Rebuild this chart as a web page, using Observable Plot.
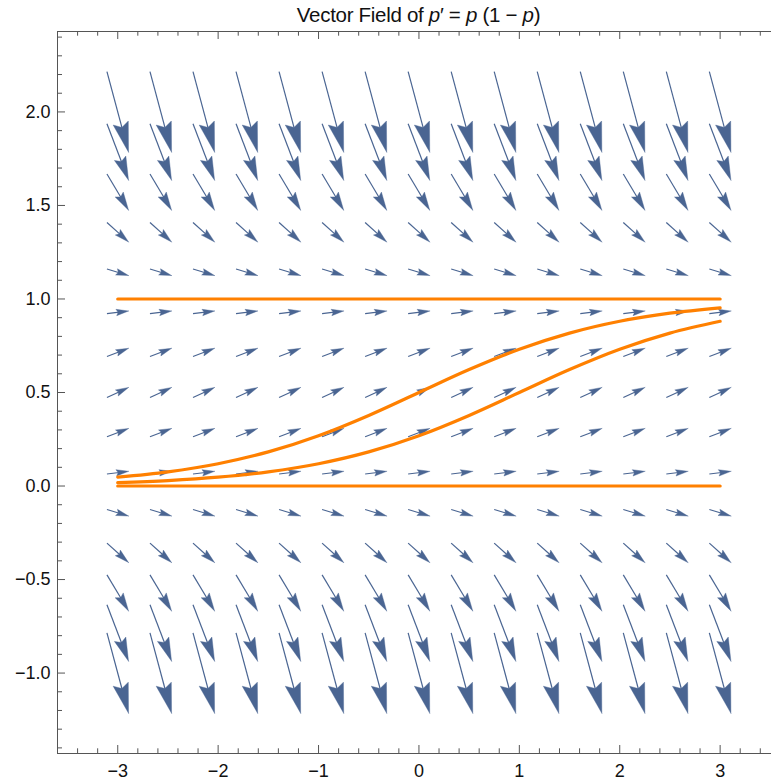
<!DOCTYPE html>
<html>
<head>
<meta charset="utf-8">
<script src="https://cdn.jsdelivr.net/npm/d3@7"></script>
<script src="https://cdn.jsdelivr.net/npm/@observablehq/plot@0.6"></script>
<style>
  body { margin: 0; background: #fff; }
  #wrap { position: relative; width: 771px; height: 781px; overflow: hidden; }
  #title { position: absolute; top: 3px; left: 57px; width: 723px; text-align: center;
           font: 20.5px "Liberation Sans", Arial, sans-serif; letter-spacing: -0.3px; color: #111; white-space: nowrap; }
  #chart { position: absolute; top: 0; left: 0; }
</style>
</head>
<body>
<div id="wrap">
  <div id="chart"></div>
  <div id="title">Vector Field of <i>p</i>′ = <i>p</i> (1 − <i>p</i>)</div>
</div>
<script>
// ---- data ----
const xGrid = [-3, -2.5714, -2.1429, -1.7143, -1.2857, -0.8571, -0.4286, 0, 0.4286, 0.8571, 1.2857, 1.7143, 2.1429, 2.5714, 3];
const pGrid = [-1, -0.7857, -0.5714, -0.3571, -0.1429, 0.0714, 0.2857, 0.5, 0.7143, 0.9286, 1.1429, 1.3571, 1.5714, 1.7857, 2];
const slopes = [-2, -1.4031, -0.898, -0.4847, -0.1633, 0.0663, 0.2041, 0.25, 0.2041, 0.0663, -0.1633, -0.4847, -0.898, -1.4031, -2];
const tSamples = [-3, -2.5, -2, -1.5, -1, -0.5, 0, 0.5, 1, 1.5, 2, 2.5, 3];
const solA = [0.0474, 0.0759, 0.1192, 0.1824, 0.2689, 0.3775, 0.5, 0.6225, 0.7311, 0.8176, 0.8808, 0.9241, 0.9526];
const solB = [0.018, 0.0293, 0.0474, 0.0759, 0.1192, 0.1824, 0.2689, 0.3775, 0.5, 0.6225, 0.7311, 0.8176, 0.8808];
const equilibria = [0, 1];
const tRange = [-3, 3];
const xMajor = [-3, -2, -1, 0, 1, 2, 3];
const xMinor = [-3.4, -3.2, -2.8, -2.6, -2.4, -2.2, -1.8, -1.6, -1.4, -1.2, -0.8, -0.6, -0.4, -0.2, 0.2, 0.4, 0.6, 0.8, 1.2, 1.4, 1.6, 1.8, 2.2, 2.4, 2.6, 2.8, 3.2, 3.4];
const yMajor = [-1, -0.5, 0, 0.5, 1, 1.5, 2];
const yMinor = [-1.4, -1.3, -1.2, -1.1, -0.9, -0.8, -0.7, -0.6, -0.4, -0.3, -0.2, -0.1, 0.1, 0.2, 0.3, 0.4, 0.6, 0.7, 0.8, 0.9, 1.1, 1.2, 1.3, 1.4, 1.6, 1.7, 1.8, 1.9, 2.1, 2.2, 2.3, 2.4];
const xDomain = [-3.6, 3.5116];
const yDomain = [-1.43, 2.43];

// ---- layout / style ----
const W = 771, H = 781;
const M = {top: 31, right: 0, bottom: 28, left: 57};
const arrowColor = "rgb(74,101,146)";
const orange = "rgb(255,128,0)";
const frameColor = "#555";
const arrowScale = 0.215;
const font = "'Liberation Sans', Arial, sans-serif";

const base = {
  width: W, height: H,
  marginTop: M.top, marginRight: M.right, marginBottom: M.bottom, marginLeft: M.left,
  x: {domain: xDomain}, y: {domain: yDomain}
};

// probe plot to obtain the library's scales
const probe = Plot.plot({...base, marks: [Plot.dot([{x: 0, y: 0}], {x: "x", y: "y"})]});
const sx = probe.scale("x"), sy = probe.scale("y");

// build arrows (shaft + filled head) in pixel space via scales, back to data
const shafts = [], heads = [];
let id = 0;
pGrid.forEach((p, j) => {
  const f = slopes[j];
  xGrid.forEach(x => {
    const dx = arrowScale, dy = arrowScale * f;
    const X0 = sx.apply(x - dx / 2), Y0 = sy.apply(p - dy / 2);
    const X1 = sx.apply(x + dx / 2), Y1 = sy.apply(p + dy / 2);
    const L = Math.hypot(X1 - X0, Y1 - Y0);
    const ux = (X1 - X0) / L, uy = (Y1 - Y0) / L;
    const nx = -uy, ny = ux;
    const h = 6 + 0.29 * L, w = 0.52 * h;
    const bx = X1 - ux * h, by = Y1 - uy * h;
    const kx = X1 - ux * h * 0.85, ky = Y1 - uy * h * 0.85;
    const pts = [
      [X1, Y1],
      [bx + nx * w / 2, by + ny * w / 2],
      [kx, ky],
      [bx - nx * w / 2, by - ny * w / 2],
      [X1, Y1]
    ];
    pts.forEach(([px, py]) => heads.push({id, x: sx.invert(px), y: sy.invert(py)}));
    shafts.push({x1: sx.invert(X0), y1: sy.invert(Y0), x2: sx.invert(kx + ux * 1), y2: sy.invert(ky + uy * 1)});
    id++;
  });
});

const curves = [];
tSamples.forEach((t, i) => {
  curves.push({s: "A", t, p: solA[i]});
  curves.push({s: "B", t, p: solB[i]});
});
const flat = [];
equilibria.forEach(e => tRange.forEach(t => flat.push({s: "e" + e, t, p: e})));

const plotH = H - M.top - M.bottom, plotW = W - M.left - M.right;

const chart = Plot.plot({
  ...base,
  style: {fontFamily: font, color: "#111", background: "white"},
  marks: [
    Plot.link(shafts, {x1: "x1", y1: "y1", x2: "x2", y2: "y2", stroke: arrowColor, strokeWidth: 1.2}),
    Plot.line(heads, {x: "x", y: "y", z: "id", fill: arrowColor, stroke: arrowColor, strokeWidth: 0.4, curve: "linear"}),
    Plot.line(flat, {x: "t", y: "p", z: "s", stroke: orange, strokeWidth: 3.2}),
    Plot.line(curves, {x: "t", y: "p", z: "s", stroke: orange, strokeWidth: 3.2, curve: "monotone-x"}),
    // frame
    Plot.ruleX([xDomain[0]], {stroke: frameColor, strokeWidth: 1}),
    Plot.ruleY([yDomain[0], yDomain[1]], {stroke: frameColor, strokeWidth: 1}),
    // ticks (inward)
    Plot.ruleX(xMajor, {stroke: frameColor, insetTop: plotH - 8}),
    Plot.ruleX(xMinor, {stroke: frameColor, insetTop: plotH - 4.7}),
    Plot.ruleX(xMajor, {stroke: frameColor, insetBottom: plotH - 8}),
    Plot.ruleX(xMinor, {stroke: frameColor, insetBottom: plotH - 4.7}),
    Plot.ruleY(yMajor, {stroke: frameColor, insetRight: plotW - 8}),
    Plot.ruleY(yMinor, {stroke: frameColor, insetRight: plotW - 5}),
    // tick labels
    Plot.axisX(xMajor, {anchor: "bottom", tickSize: 0, tickPadding: 11, fontSize: 18, tickFormat: d3.format("d")}),
    Plot.axisY(yMajor, {anchor: "left", tickSize: 0, tickPadding: 7, fontSize: 18, tickFormat: d3.format(".1f")})
  ]
});
document.getElementById("chart").appendChild(chart);
</script>
</body>
</html>
